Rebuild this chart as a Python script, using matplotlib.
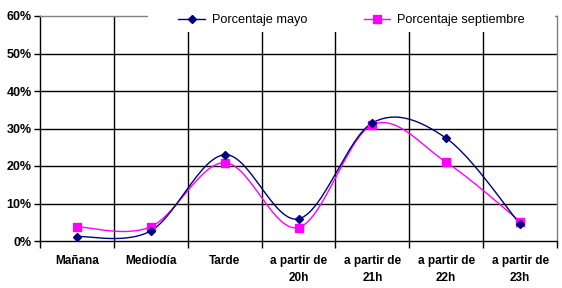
import numpy as np
import matplotlib.pyplot as plt
from matplotlib.patches import Rectangle
from matplotlib.lines import Line2D
from matplotlib.ticker import FuncFormatter

categorias = ["Mañana", "Mediodía", "Tarde", "a partir de\n20h",
              "a partir de\n21h", "a partir de\n22h", "a partir de\n23h"]
porc_mayo = [1.2, 2.7, 23.0, 5.9, 31.5, 27.4, 4.5]
porc_septiembre = [3.8, 3.8, 20.9, 3.6, 31.0, 21.0, 5.2]

plt.rcParams['font.family'] = ['Liberation Sans', 'DejaVu Sans']


def suavizar(x, y, n=30):
    # curva tipo Excel (Catmull-Rom) solo para el trazo de la linea
    x = np.asarray(x, float)
    y = np.asarray(y, float)
    px = np.concatenate([[x[0]], x, [x[-1]]])
    py = np.concatenate([[y[0]], y, [y[-1]]])
    xs, ys = [], []
    t = np.linspace(0, 1, n)
    for i in range(1, len(px) - 2):
        p0, p1, p2, p3 = [np.array([px[j], py[j]]) for j in (i - 1, i, i + 1, i + 2)]
        c1 = p1 + (p2 - p0) / 6
        c2 = p2 - (p3 - p1) / 6
        b = ((1 - t) ** 3)[:, None] * p1 + (3 * (1 - t) ** 2 * t)[:, None] * c1 \
            + (3 * (1 - t) * t ** 2)[:, None] * c2 + (t ** 3)[:, None] * p2
        xs.extend(b[:, 0])
        ys.extend(b[:, 1])
    return xs, ys


fig = plt.figure(figsize=(5.62, 2.88), dpi=100)
ax = fig.add_axes([40 / 562, 1 - 241 / 288, 517 / 562, 225 / 288])

x = np.arange(len(categorias))

# rejilla
for yv in range(10, 60, 10):
    ax.axhline(yv, color='black', lw=1, zorder=1)
for xv in np.arange(0.5, len(categorias) - 1, 1):
    ax.axvline(xv, color='black', lw=1, zorder=1)

xs, ys = suavizar(x, porc_septiembre)
ax.plot(xs, ys, color='#FF00FF', lw=1, zorder=3)
ax.plot(x, porc_septiembre, 's', color='#FF00FF', ms=5.5, zorder=4)
xs, ys = suavizar(x, porc_mayo)
ax.plot(xs, ys, color='#000080', lw=1, zorder=3)
ax.plot(x, porc_mayo, 'D', color='#000080', ms=4.5, zorder=4)

ax.set_xlim(-0.5, len(categorias) - 0.5)
ax.set_ylim(0, 60)
ax.set_yticks(range(0, 61, 10))
ax.yaxis.set_major_formatter(FuncFormatter(lambda v, p: f"{v:.0f}%"))
ax.set_xticks(x)
ax.set_xticklabels(categorias, fontweight='bold', fontsize=8.5, linespacing=1.55)
ax.set_xticks(np.arange(-0.5, len(categorias), 1), minor=True)
ax.tick_params(axis='x', which='major', length=0, pad=10)
ax.tick_params(axis='x', which='minor', length=5, width=1, direction='out', color='black')
ax.tick_params(axis='y', length=4, width=1, direction='out', labelsize=9, pad=2)
for lab in ax.get_yticklabels():
    lab.set_fontweight('bold')

ax.spines['left'].set_color('black')
ax.spines['bottom'].set_color('black')
ax.spines['top'].set_color('#808080')
ax.spines['right'].set_color('#808080')
for s in ax.spines.values():
    s.set_linewidth(1)

# recuadro blanco de la leyenda que tapa la parte superior
fig.patches.append(Rectangle((148 / 562, 1 - 32 / 288), 407 / 562, 32 / 288,
                             transform=fig.transFigure, facecolor='white',
                             edgecolor='none', zorder=5))

h_mayo = Line2D([], [], color='#000080', marker='D', ms=4.5, lw=1)
h_sep = Line2D([], [], color='#FF00FF', marker='s', ms=5.5, lw=1)
leg = fig.legend([h_mayo, h_sep], ['Porcentaje mayo', 'Porcentaje septiembre'],
                 loc='center left', bbox_to_anchor=(173 / 562, 1 - 20 / 288),
                 ncol=2, frameon=False, fontsize=9.2, handlelength=2.1,
                 handletextpad=0.55, columnspacing=4.4, borderaxespad=0)
leg.set_zorder(6)

fig.savefig('out.png', dpi=100)
